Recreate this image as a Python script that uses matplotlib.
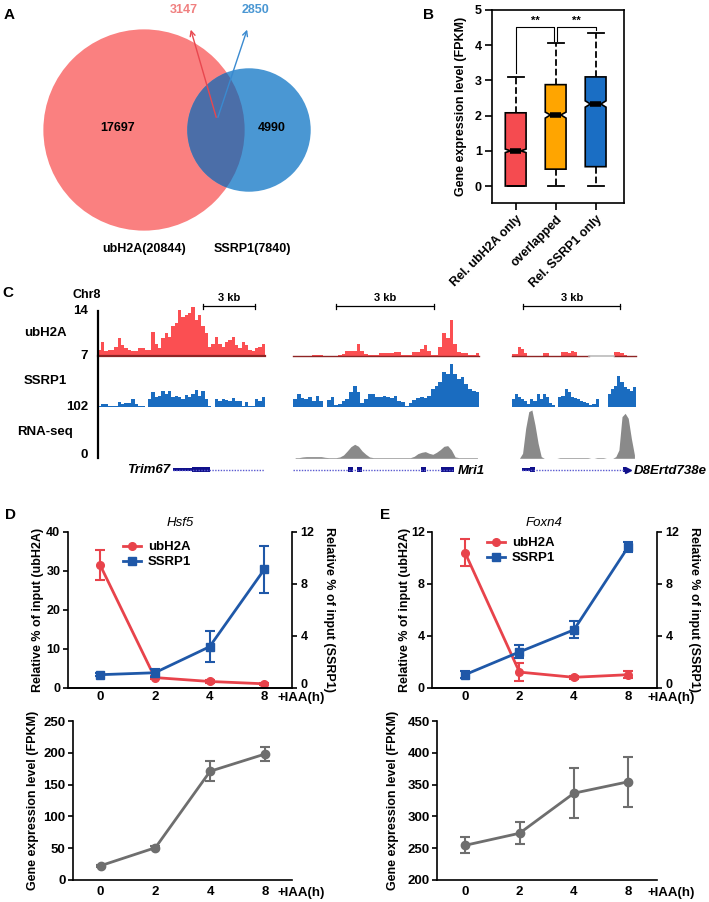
import numpy as np
import matplotlib
matplotlib.use("Agg")
import matplotlib.pyplot as plt
from matplotlib.patches import Circle, Rectangle
from matplotlib.lines import Line2D

plt.rcParams['font.family'] = ['Liberation Sans', 'DejaVu Sans']
plt.rcParams['font.weight'] = 'bold'
plt.rcParams['axes.labelweight'] = 'bold'
plt.rcParams['font.size'] = 9
plt.rcParams['axes.linewidth'] = 1.2

W, H = 709, 902
RED = '#e8434b'
BLUE = '#1f58a8'
GREY = '#6e6e6e'

# ---------------- A: venn ----------------
venn_names = ["ubH2A", "SSRP1"]
venn_totals = [20844, 7840]
venn_only = [17697, 4990]
venn_overlap = [3147, 2850]

# ---------------- B: boxplot summary ----------------
box_labels = ["Rel. ubH2A only", "overlapped", "Rel. SSRP1 only"]
box_med = [1.0, 2.02, 2.33]
box_q1 = [0.0, 0.48, 0.55]
box_q3 = [2.08, 2.88, 3.1]
box_lo = [0.0, 0.0, 0.0]
box_hi = [3.1, 4.05, 4.35]
box_cilo = [0.95, 1.93, 2.24]
box_cihi = [1.05, 2.1, 2.42]
box_colors = ['#f54b50', '#ffa500', '#1a6ec4']

# ---------------- C: browser tracks (binned signal) ----------------
nan = np.nan
ub_c1 = [8.0, 9.3, 7.8, 8.0, 8.0, 8.5, 9.8, 8.8, 8.3, 8.0,
         7.8, 7.8, 8.3, 8.3, 8.0, 8.0, 10.8, 9.0, 8.3, 9.8,
         10.6, 10.0, 11.6, 12.1, 14.1, 13.1, 13.3, 13.6, 14.5, 12.6,
         13.3, 11.6, 10.6, 8.5, 9.0, 10.0, 9.0, 8.5, 9.3, 9.5,
         10.0, 8.8, 8.3, 9.3, 8.8, 8.0, 7.8, 8.3, 8.5, 9.0]
ub_c2 = [7.1, 7.1, 7.1, 7.1, 7.1, 7.25, 7.25, 7.25, 7.1, 7.1,
         7.1, 7.1, 7.25, 7.4, 7.9, 7.9, 7.9, 9.0, 7.9, 7.4,
         7.25, 7.25, 7.25, 7.5, 7.5, 7.5, 7.5, 7.7, 7.7, 7.25,
         7.25, 7.25, 7.75, 7.75, 8.1, 8.8, 7.9, 7.25, 7.25, 8.5,
         10.55, 9.8, 12.6, 9.0, 7.75, 7.5, 7.5, 7.25, 7.25, 7.5]
ub_c3 = [7.4, 7.4, 8.5, 8.1, 7.5, 7.15, 7.15, 7.15, 7.15, 7.15,
         7.5, 7.5, 7.15, 7.15, 7.15, 7.15, 7.7, 7.7, 7.5, 7.8,
         7.75, 7.15, 7.15, 7.15, 7.15, nan, nan, nan, nan, nan,
         nan, nan, nan, 7.7, 7.7, 7.6, 7.2, 7.15, 7.15, 7.15]
ss_c1 = [5, 10, 10, 3, 3, 3, 15, 10, 12, 12,
         25, 10, 5, 5, 2, 25, 45, 30, 35, 50,
         40, 50, 30, 35, 30, 25, 38, 30, 40, 52,
         35, 50, 25, 5, 2, 25, 20, 25, 22, 18,
         28, 20, 18, 5, 15, 3, 5, 25, 20, 30]
ss_c2 = [25, 40, 28, 25, 30, 20, 35, 20, 2, 22,
         30, 8, 10, 20, 25, 45, 65, 45, 12, 25,
         40, 40, 30, 30, 35, 30, 28, 35, 20, 15,
         5, 12, 22, 28, 30, 28, 35, 55, 65, 75,
         105, 100, 130, 100, 85, 90, 70, 55, 50, 45]
ss_c3 = [25, 40, 30, 25, 18, 10, 25, 20, 40, 25,
         40, 30, 12, 8, 2, 30, 35, 55, 45, 30,
         28, 25, 18, 15, 12, 8, 10, 25, 8, nan,
         nan, 40, 55, 65, 95, 75, 60, 55, 50, 60]
rna_c1 = [0.0] * 50
rna_c2 = [2, 2, 4, 5, 5, 5, 5, 5, 3, 2,
          2, 2, 4, 10, 22, 35, 42, 36, 22, 12,
          4, 2, 2, 2, 2, 2, 2, 2, 2, 2,
          2, 2, 6, 14, 18, 20, 15, 12, 18, 26,
          36, 38, 25, 4, 2, 2, 2, 2, 2, 2]
rna_c3 = [0, 0, 0, 15, 90, 140, 145, 100, 45, 5,
          0, 0, 0, 0, 0, 2, 2, 2, 2, 2,
          2, 2, 2, 2, 2, 0, 0, 2, 2, 2,
          0, 0, 0, 5, 25, 125, 135, 120, 60, 10]

gene_names = ["Trim67", "Mri1", "D8Ertd738e"]
gene_span = [(22.5, 50), (0, 43.1), (3.2, 38)]
gene_utr = [[(22.5, 28.1)], [], [(3.2, 5.9)]]
gene_cds = [[(28.1, 33.6)], [(14.8, 16.1), (17.2, 18.5), (34.4, 35.7), (39.8, 43.1)],
            [(5.9, 7.5), (35.9, 36.8)]]

# ---------------- D / E ----------------
hours = ["0", "2", "4", "8"]
hsf5_ub = [31.5, 2.6, 1.6, 1.0]
hsf5_ub_err = [3.9, 0.3, 0.3, 0.2]
hsf5_ss = [1.0, 1.15, 3.15, 9.1]
hsf5_ss_err = [0.12, 0.3, 1.2, 1.8]
hsf5_rna = [22.5, 50.8, 171, 198]
hsf5_rna_err = [1.5, 2, 15.5, 10.5]
foxn4_ub = [10.4, 1.2, 0.8, 1.0]
foxn4_ub_err = [1.05, 0.7, 0.1, 0.25]
foxn4_ss = [1.0, 2.75, 4.45, 10.85]
foxn4_ss_err = [0.25, 0.5, 0.65, 0.38]
foxn4_rna = [254.5, 273.5, 336.5, 354.5]
foxn4_rna_err = [12.5, 17, 39, 39]

fig = plt.figure(figsize=(W / 100, H / 100), dpi=100)


def px_axes(x0, y0, x1, y1, **kw):
    return fig.add_axes([x0 / W, 1 - y1 / H, (x1 - x0) / W, (y1 - y0) / H], **kw)


# ---------------- B ----------------
axb = px_axes(491.7, 10, 624, 203.3)
stats = []
for i in range(3):
    stats.append(dict(med=box_med[i], q1=box_q1[i], q3=box_q3[i], whislo=box_lo[i],
                      whishi=box_hi[i], cilo=box_cilo[i], cihi=box_cihi[i], fliers=[]))
bp = axb.bxp(stats, positions=[1, 2, 3], widths=0.52, shownotches=True, patch_artist=True,
             showfliers=False, capwidths=0.4,
             boxprops=dict(linewidth=1.2, edgecolor='black'),
             whiskerprops=dict(linestyle='--', linewidth=1.3, color='black'),
             capprops=dict(linewidth=1.3, color='black'),
             medianprops=dict(color='black', linewidth=4))
for patch, c in zip(bp['boxes'], box_colors):
    patch.set_facecolor(c)
axb.set_xlim(0.4, 3.71)
axb.set_ylim(-0.49, 5)
axb.set_yticks(range(6))
axb.set_xticks([1, 2, 3])
axb.set_xticklabels(box_labels, rotation=45, ha='right', rotation_mode='anchor')
axb.tick_params(length=5, width=1.2, labelsize=9, pad=2)
axb.set_ylabel("Gene expression level (FPKM)", fontsize=9, va='center')
axb.yaxis.set_label_coords(-0.23, 0.5)
top = 4.53
for (a, b), la, lb in [((1, 1.97), 3.2, 4.12), ((2.03, 3), 4.12, 4.42)]:
    axb.plot([a, a, b, b], [la, top, top, lb], color='black', lw=0.8)
    axb.text((a + b) / 2, top + 0.02, "**", ha='center', va='bottom', fontsize=8)

# ---------------- C ----------------
cols = [(97.7, 265), (293.3, 479.3), (511.7, 636)]
ub_data = [ub_c1, ub_c2, ub_c3]
ss_data = [ss_c1, ss_c2, ss_c3]
rna_data = [rna_c1, rna_c2, rna_c3]


def step_track(ax, vals, lo, hi, color):
    v = np.array(vals, dtype=float)
    n = len(v)
    edges = np.arange(n + 1)
    ax.fill_between(edges, lo, np.append(v, v[-1]), step='post', color=color, lw=0)
    ax.set_xlim(0, n)
    ax.set_ylim(lo, hi)
    ax.axis('off')
    return v, edges


for ci, (x0, x1) in enumerate(cols):
    # ubH2A
    ax = px_axes(x0, 306.8, x1, 356.7)
    v, edges = step_track(ax, ub_data[ci], 7, 14.6, '#fb4f52')
    base = np.where(np.isnan(v), np.nan, 7.05)
    gap = np.where(np.isnan(v), 7.05, np.nan)
    ax.step(edges, np.append(base, base[-1]), where='post', color='#8e2525',
            lw=1.6 if ci == 0 else 1.0, clip_on=False)
    ax.step(edges, np.append(gap, gap[-1]), where='post', color='#bbbbbb', lw=1.2)
    # SSRP1
    ax = px_axes(x0, 360, x1, 407.3)
    step_track(ax, ss_data[ci], 0, 142, '#1a6cc0')
    # RNA-seq
    ax = px_axes(x0, 408.3, x1, 458.3)
    r = np.array(rna_data[ci], dtype=float)
    ax.fill_between(np.arange(len(r)) + 0.5, 0, r, color='#8a8a8a', lw=0)
    ax.set_xlim(0, len(r))
    ax.set_ylim(0, 150)
    ax.axis('off')
    # gene model
    ax = px_axes(x0, 462, x1, 477)
    n = len(rna_data[ci])
    s0, s1 = gene_span[ci]
    ax.plot([s0, s1], [0, 0], color='#5a5ad0', lw=1.0, ls=(0, (1, 1)))
    for a, b in gene_utr[ci]:
        ax.add_patch(Rectangle((a, -0.15), b - a, 0.3, color='#10108a', lw=0))
    for a, b in gene_cds[ci]:
        ax.add_patch(Rectangle((a, -0.36), b - a, 0.72, color='#10108a', lw=0))
    if ci == 2:
        ax.plot([s1 - 0.6], [0], marker='>', color='#10108a', ms=4)
    if ci == 0:
        ax.text(s0 - 0.9, -0.05, gene_names[ci], ha='right', va='center',
                style='italic', fontsize=9.5)
    else:
        ax.text(s1 + 1.2, -0.15, gene_names[ci], ha='left', va='center',
                style='italic', fontsize=9.5)
    ax.set_xlim(0, n)
    ax.set_ylim(-1, 1)
    ax.axis('off')


# ---------------- D / E ----------------
def chip_panel(rect, ub, ub_err, ss, ss_err, ub_lim, ub_ticks, gene, xlim, lab_x, leg_xy):
    ax = px_axes(*rect)
    ax2 = ax.twinx()
    x = np.arange(len(hours))
    ax.errorbar(x, ub, yerr=ub_err, color=RED, marker='o', ms=5.5, lw=2,
                elinewidth=1.5, capsize=3.5, capthick=1.5)
    ax2.errorbar(x, ss, yerr=ss_err, color=BLUE, marker='s', ms=5.5, lw=2,
                 elinewidth=1.5, capsize=3.5, capthick=1.5)
    ax.set_xlim(*xlim)
    ax.set_ylim(0, ub_lim)
    ax2.set_ylim(0, 12)
    ax.set_yticks(ub_ticks)
    ax2.set_yticks([0, 4, 8, 12])
    ax.set_xticks(x)
    ax.set_xticklabels(hours)
    for a in (ax, ax2):
        a.spines['top'].set_visible(False)
    ax.spines['right'].set_visible(False)
    ax2.spines['left'].set_visible(False)
    ax.tick_params(axis='x', length=0, pad=2.5, labelsize=9.5)
    ax.tick_params(axis='y', length=3.5, width=1.2, pad=2, labelsize=9)
    ax2.tick_params(axis='y', length=3.5, width=1.2, pad=3, labelsize=9)
    # the right-hand "0" sits a little above the axis line, clear of "+IAA(h)"
    ax2.yaxis.get_major_ticks()[0].label2.set_va('baseline')
    ax.set_ylabel("Relative % of input (ubH2A)", fontsize=9, va='center')
    ax.yaxis.set_label_coords(lab_x[0], 0.5)
    ax2.set_ylabel("Relative % of input (SSRP1)", fontsize=9, rotation=270, va='center')
    ax2.yaxis.set_label_coords(lab_x[1], 0.5)
    ax.set_title(gene, style='italic', fontweight='normal', fontsize=9.5, pad=4)
    handles = [Line2D([], [], color=RED, marker='o', ms=5.5, lw=2),
               Line2D([], [], color=BLUE, marker='s', ms=5.5, lw=2)]
    ax2.legend(handles, ["ubH2A", "SSRP1"], loc='upper left', bbox_to_anchor=leg_xy,
               frameon=False, fontsize=9.5, handlelength=1.4, handletextpad=0.5,
               labelspacing=0.2, borderpad=0, borderaxespad=0)


def rna_panel(rect, vals, err, ylim, yticks, xlim, lab_x):
    ax = px_axes(*rect)
    x = np.arange(len(hours))
    ax.errorbar(x, vals, yerr=err, color=GREY, marker='o', ms=6, lw=2,
                elinewidth=1.5, capsize=3.5, capthick=1.5)
    ax.set_xlim(*xlim)
    ax.set_ylim(*ylim)
    ax.set_yticks(yticks)
    ax.set_xticks(x)
    ax.set_xticklabels(hours)
    ax.spines['top'].set_visible(False)
    ax.spines['right'].set_visible(False)
    ax.tick_params(axis='x', length=0, pad=4, labelsize=9.5)
    ax.tick_params(axis='y', length=3.5, width=1.2, pad=2, labelsize=9.5)
    ax.set_ylabel("Gene expression level (FPKM)", fontsize=9, va='center')
    ax.yaxis.set_label_coords(lab_x, 0.5)


chip_panel((68, 531.7, 291.7, 687.7), hsf5_ub, hsf5_ub_err, hsf5_ss, hsf5_ss_err,
           40, [0, 10, 20, 30, 40], "Hsf5", (-0.585, 3.5), (-0.134, 1.165), (0.245, 0.94))
chip_panel((432.3, 531.7, 656.7, 687.7), foxn4_ub, foxn4_ub_err, foxn4_ss, foxn4_ss_err,
           12, [0, 4, 8, 12], "Foxn4", (-0.6, 3.52), (-0.121, 1.165), (0.242, 0.965))
rna_panel((73.3, 721, 291.7, 880), hsf5_rna, hsf5_rna_err, (0, 250),
          [0, 50, 100, 150, 200, 250], (-0.5, 3.49), -0.185)
rna_panel((437.3, 721, 656.7, 880), foxn4_rna, foxn4_rna_err, (200, 450),
          [200, 250, 300, 350, 400, 450], (-0.51, 3.52), -0.202)

# ---------------- overlay (pixel coordinates) ----------------
ov = px_axes(0, 0, W, H)
ov.set_xlim(0, W)
ov.set_ylim(H, 0)
ov.axis('off')

# venn
k = 0.697
r_big = k * np.sqrt(venn_totals[0])
r_small = k * np.sqrt(venn_totals[1])
c_red = Circle((144, 130), r_big, color='#fa8080', lw=0)
c_blue = Circle((249, 130), r_small, color='#4a97d3', lw=0)
ov.add_patch(c_red)
ov.add_patch(c_blue)
c_ov = Circle((249, 130), r_small, color='#4b6ea8', lw=0)
ov.add_patch(c_ov)
c_ov.set_clip_path(c_red)
ov.text(118, 128, str(venn_only[0]), ha='center', va='center', fontsize=9)
ov.text(272, 128, str(venn_only[1]), ha='center', va='center', fontsize=9)
ov.annotate("", xy=(190, 27), xytext=(217, 120),
            arrowprops=dict(arrowstyle='->', color='#e8474f', lw=1.0))
ov.annotate("", xy=(248, 27), xytext=(217, 120),
            arrowprops=dict(arrowstyle='->', color='#3a8ad0', lw=1.0))
ov.text(184, 10, str(venn_overlap[0]), ha='center', va='center', fontsize=9, color='#f08080')
ov.text(256, 10, str(venn_overlap[1]), ha='center', va='center', fontsize=9, color='#4a97d3')
ov.text(144, 249, f"{venn_names[0]}({venn_totals[0]})", ha='center', va='center', fontsize=9)
ov.text(252.7, 249, f"{venn_names[1]}({venn_totals[1]})", ha='center', va='center', fontsize=9)

# panel letters
for lab, (x, y) in zip("ABCDE", [(9, 15), (429, 15), (8, 293), (10, 515), (385, 515)]):
    ov.text(x, y, lab, ha='center', va='center', fontsize=11)

# C labels
ov.text(87, 295, "Chr8", ha='center', va='center', fontsize=9)
for t, y in [("14", 311), ("7", 356), ("102", 406.7), ("0", 455)]:
    ov.text(88, y, t, ha='right', va='center', fontsize=9.5)
for t, y in [("ubH2A", 332.7), ("SSRP1", 380.7), ("RNA-seq", 431.7)]:
    ov.text(45, y, t, ha='center', va='center', fontsize=9.5)
ov.plot([97.7, 97.7], [310.7, 458.3], color='black', lw=1.6)
for a, b in [(203.3, 255), (335.7, 434.3), (523.3, 620)]:
    ov.plot([a, b], [306, 306], color='black', lw=0.9)
    ov.plot([a, a], [303.5, 308.5], color='black', lw=0.9)
    ov.plot([b, b], [303.5, 308.5], color='black', lw=0.9)
    ov.text((a + b) / 2, 298, "3 kb", ha='center', va='center', fontsize=8)

# +IAA(h) axis titles
for x, y in [(325, 698), (695, 698), (325, 893), (695, 893)]:
    ov.text(x, y, "+IAA(h)", ha='right', va='center', fontsize=9.5)

fig.savefig("out.png", dpi=100)
